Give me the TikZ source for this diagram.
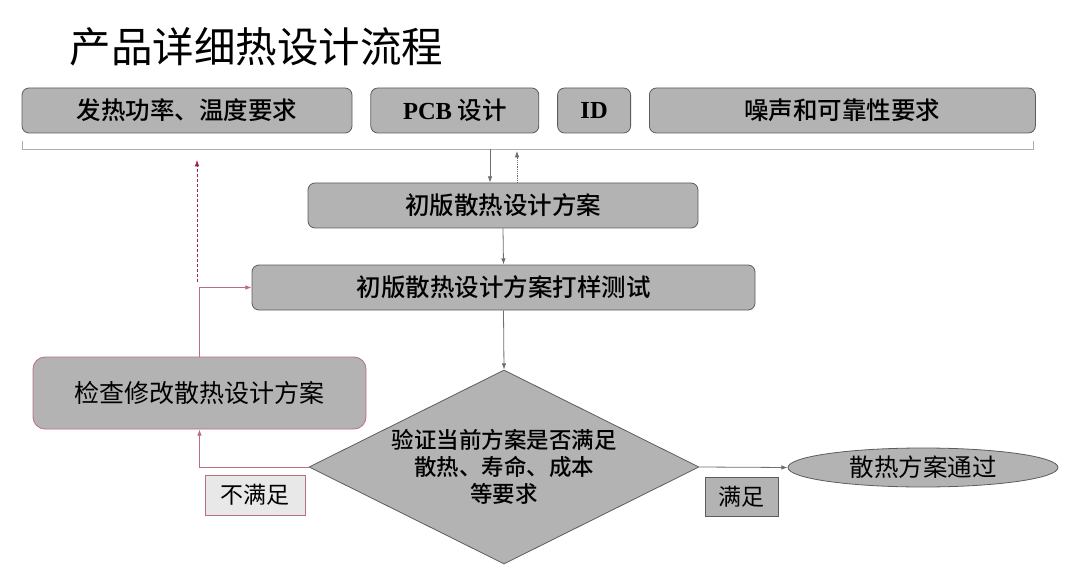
\documentclass[tikz,border=0pt]{standalone}
\usepackage{fontspec}
\setmainfont{Liberation Serif}
\newfontfamily\cjk{Noto Sans CJK SC}[BoldFont={Noto Sans CJK SC Medium}]
\usetikzlibrary{shapes.geometric, arrows.meta, positioning, calc}
\definecolor{grisCaja}{HTML}{B3B3B3}
\definecolor{bordeCaja}{HTML}{5C5C5C}
\definecolor{grisLinea}{HTML}{6E6E6E}
\definecolor{rojoFlecha}{HTML}{9A2844}
\definecolor{bordeRojo}{HTML}{B8707E}
\definecolor{grisClaro}{HTML}{E8E8E8}

\begin{document}
\begin{tikzpicture}[x=1pt, y=-1pt, >=Latex, node distance=18pt,
        caja/.style={draw=bordeCaja, fill=grisCaja, line width=0.8pt, rounded corners=7pt,
            minimum height=45pt, inner sep=0pt, align=center,
            font=\cjk\bfseries\fontsize{24.5}{28}\selectfont},
        etiq/.style={draw=bordeCaja, fill=grisCaja, line width=0.8pt, inner sep=0pt,
            font=\cjk\fontsize{23}{26}\selectfont},
        fl/.style={-{Latex[length=2.2mm, width=1.6mm]}, grisLinea, line width=0.8pt},
        flr/.style={-{Latex[length=2.2mm, width=1.6mm]}, rojoFlecha, line width=0.8pt}]
    \useasboundingbox (0,0) rectangle (1080,583);
    % titulo
    \node[anchor=west, font=\cjk\fontsize{41.5}{46}\selectfont] (titulo) at (66,47) {产品详细热设计流程};
    % entradas
    \node[caja, minimum width=330pt] (calor) at (187,110.5) {发热功率、温度要求};
    \node[caja, minimum width=168pt, right=of calor] (pcb) {{\rmfamily\bfseries PCB} 设计};
    \node[caja, minimum width=73pt, right=of pcb] (id) {\rmfamily\bfseries ID};
    \node[caja, minimum width=386pt, right=of id] (ruido) {噪声和可靠性要求};
    \coordinate (brI) at (22,141);
    \coordinate (brD) at (1033,141);
    \draw[color=grisLinea!55, line width=0.9pt] (brI) -- ++(0,8) -| (brD);
    \coordinate (brA) at (490,149);
    \coordinate (brB) at (517,151);
    % flujo
    \node[caja, minimum width=390pt] (diseno) at (503,205.5) {初版散热设计方案};
    \node[caja, minimum width=503pt] (prueba) at (503.5,287.5) {初版散热设计方案打样测试};
    \node[draw=bordeCaja, fill=grisCaja, line width=0.8pt, diamond, aspect=2, inner sep=0pt,
        minimum width=390pt, minimum height=194pt, align=center,
        font=\cjk\bfseries\fontsize{22.5}{27}\selectfont] (verif) at (504,467)
        {验证当前方案是否满足\\散热、寿命、成本\\等要求};
    \node[caja, draw=bordeRojo, minimum width=333pt, minimum height=72pt, rounded corners=12pt,
        font=\cjk\fontsize{25}{29}\selectfont] (revisa) at (199.5,393) {检查修改散热设计方案};
    \node[ellipse, draw=bordeCaja, fill=grisCaja, line width=0.8pt, minimum width=270pt,
        minimum height=39pt, inner sep=0pt, font=\cjk\fontsize{24.5}{28}\selectfont] (pasa) at (923,467.5) {散热方案通过};
    \node[etiq, draw=bordeRojo, fill=grisClaro, minimum width=100pt, minimum height=40pt] (nosat) at (255,495) {不满足};
    \node[etiq, minimum width=73pt, minimum height=39pt] (sat) at (741.5,496.5) {满足};
    % conectores
    \draw[fl] (brA) -- (diseno.north -| brA);
    \draw[fl, densely dotted] (diseno.north -| brB) -- (brB);
    \draw[fl] (diseno.south) -- (prueba.north);
    \draw[fl] (prueba.south) -- (verif.north);
    \draw[fl] (verif.east) -- (pasa.west);
    \draw[flr, draw=bordeRojo] (verif.west) -| (revisa.south);
    \draw[flr, draw=bordeRojo] (revisa.north) |- (prueba.west);
    \coordinate (rtA) at (197,282);
    \coordinate (rtB) at (197,160);
    \draw[flr, densely dashed] (rtA) -- (rtB);
\end{tikzpicture}
\end{document}
